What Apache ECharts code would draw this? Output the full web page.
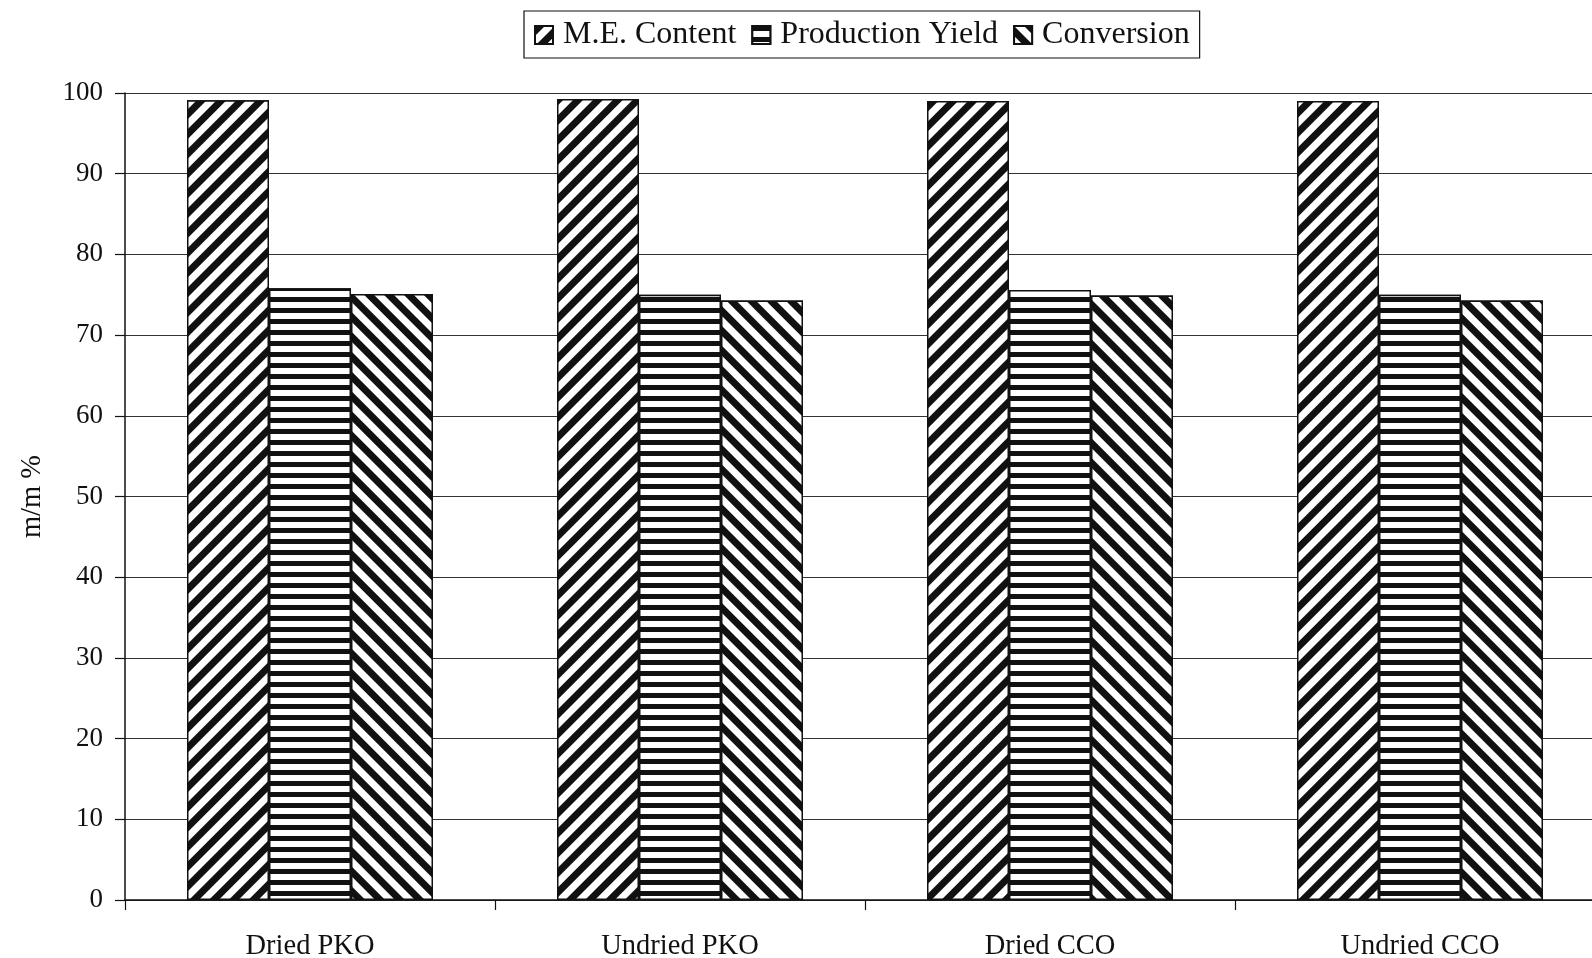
<!DOCTYPE html>
<html>
<head>
<meta charset="utf-8">
<script src="https://cdn.jsdelivr.net/npm/echarts@6/dist/echarts.min.js"></script>
<style>
html,body{margin:0;padding:0;background:#fff;}
#chart{width:1592px;height:958px;}
</style>
</head>
<body>
<div id="chart"></div>
<script>
const categories = ['Dried PKO', 'Undried PKO', 'Dried CCO', 'Undried CCO'];
const meContent = [99.1, 99.25, 99.0, 99.0];
const productionYield = [75.8, 75.0, 75.6, 75.0];
const conversion = [75.1, 74.3, 74.9, 74.3];
const yTicks = { min: 0, max: 100, interval: 10 };

const FONT = 'Liberation Serif';
const INK = '#111';

function hatch(rotation, dashY) {
  return {
    symbol: 'rect',
    symbolSize: 1,
    dashArrayX: [1, 0],
    dashArrayY: dashY,
    rotation: rotation,
    color: INK,
    backgroundColor: '#fff'
  };
}

const chart = echarts.init(document.getElementById('chart'), null, { renderer: 'canvas' });

function barSeries(name, data, decal) {
  return {
    name: name,
    type: 'bar',
    data: data,
    barWidth: 82,
    barGap: '0%',
    itemStyle: {
      color: '#fff',
      borderColor: INK,
      borderWidth: 1.5,
      decal: decal
    },
    emphasis: { disabled: true },
    animation: false
  };
}

chart.setOption({
  backgroundColor: '#fff',
  animation: false,
  legend: {
    left: 524,
    top: 11,
    padding: [8, 10, 7, 10],
    itemWidth: 18,
    itemHeight: 18,
    itemGap: 15,
    borderColor: INK,
    borderWidth: 1.2,
    icon: 'rect',
    textStyle: { fontFamily: FONT, fontSize: 32, color: INK, padding: [2, 0, 0, 5] },
    data: ['M.E. Content', 'Production Yield', 'Conversion']
  },
  grid: { left: 125, top: 93, width: 1480, bottom: 58, containLabel: false, outerBoundsMode: 'none' },
  xAxis: {
    type: 'category',
    data: categories,
    boundaryGap: true,
    axisLine: { lineStyle: { color: INK, width: 1.5 } },
    axisTick: { show: true, length: 10, lineStyle: { color: INK, width: 1.2 } },
    axisLabel: { fontFamily: FONT, fontSize: 28.5, color: INK, margin: 32 },
    splitLine: { show: false }
  },
  yAxis: {
    type: 'value',
    min: yTicks.min,
    max: yTicks.max,
    interval: yTicks.interval,
    name: 'm/m %',
    nameLocation: 'middle',
    nameGap: 78,
    nameTextStyle: { fontFamily: FONT, fontSize: 28.5, color: INK },
    axisLine: { show: true, lineStyle: { color: INK, width: 1.5 } },
    axisTick: { show: true, length: 10, lineStyle: { color: INK, width: 1.2 } },
    axisLabel: { fontFamily: FONT, fontSize: 27, color: INK, margin: 22 },
    splitLine: { show: true, lineStyle: { color: '#333', width: 1.2 } }
  },
  series: [
    barSeries('M.E. Content', meContent, hatch(-Math.PI / 4, [6.5, 7])),
    barSeries('Production Yield', productionYield, hatch(0, [4.5, 6])),
    barSeries('Conversion', conversion, hatch(Math.PI / 4, [6.5, 7]))
  ]
});
</script>
</body>
</html>
